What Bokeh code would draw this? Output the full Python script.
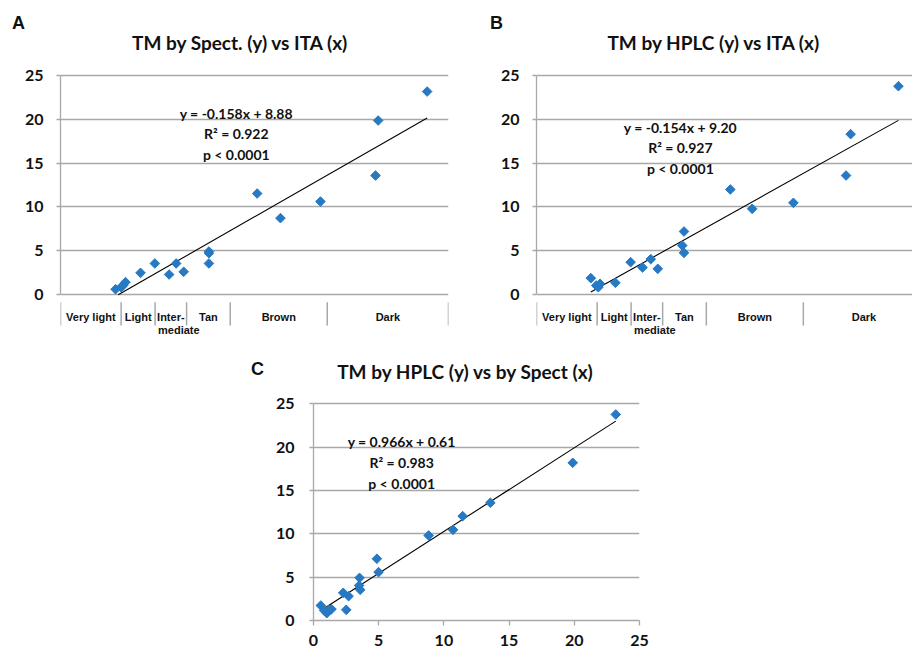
from bokeh.plotting import figure
from bokeh.layouts import column, row
from bokeh.models import Div, FixedTicker, Label, Range1d
from bokeh.embed import file_html
from bokeh.resources import INLINE

# ---------------- data ----------------
# Panel A: TM by Spectrophotometry (y) vs ITA (x)
ita_a = [57.3, 55.0, 54.2, 53.2, 47.0, 41.1, 35.2, 32.3, 29.2, 18.8, 18.8, 18.8,
         -1.1, -10.7, -27.2, -49.9, -51.0, -71.2]
tm_spect_a = [0.64, 0.87, 1.06, 1.44, 2.50, 3.57, 2.31, 3.57, 2.62, 4.93, 4.74, 3.57,
              11.53, 8.73, 10.62, 13.58, 19.84, 23.14]
fit_a = (-0.158, 8.88)
txt_a = ["y = -0.158x + 8.88", "R² = 0.922", "p < 0.0001"]

# Panel B: TM by HPLC (y) vs ITA (x)
ita_b = [57.6, 55.4, 54.5, 53.8, 47.5, 41.2, 36.3, 32.9, 30.0, 19.2, 19.9, 19.2,
         0.1, -8.9, -25.9, -47.6, -49.5, -69.2]
tm_hplc_b = [1.90, 1.06, 0.87, 1.25, 1.37, 3.72, 3.11, 4.06, 2.96, 7.21, 5.61, 4.78,
             11.99, 9.79, 10.47, 13.58, 18.29, 23.75]
fit_b = (-0.154, 9.20)
txt_b = ["y = -0.154x + 9.20", "R² = 0.927", "p < 0.0001"]

# Panel C: TM by HPLC (y) vs by Spect (x)
spect_c = [0.56, 0.82, 1.02, 1.20, 1.38, 2.28, 2.51, 2.69, 3.53, 3.50, 3.58, 4.86, 4.99,
           8.83, 10.70, 11.44, 13.56, 19.88, 23.18]
hplc_c = [1.73, 1.15, 0.85, 1.23, 1.31, 3.19, 1.23, 2.81, 4.92, 4.04, 3.54, 7.12, 5.58,
          9.81, 10.46, 12.04, 13.58, 18.19, 23.77]
fit_c = (0.966, 0.61)
txt_c = ["y = 0.966x + 0.61", "R² = 0.983", "p < 0.0001"]

# ITA skin categories
cat_names = ["Very light", "Light", "Inter-", "Tan", "Brown", "Dark"]
cat_bounds = [80, 55, 41, 28, 10, -30, -80]

y_ticks = [0, 5, 10, 15, 20, 25]
c_x_ticks = [0, 5, 10, 15, 20, 25]

# ---------------- style ----------------
BLUE = "#2679c2"
GRID = "#a8a8a8"
NUM_FONT = "Lato"
LAB_FONT = "Liberation Sans"


def style_axis(ax, standoff, tick_out=4):
    ax.ticker = FixedTicker(ticks=y_ticks)
    ax.bounds = (0, 25)
    ax.axis_line_color = GRID
    ax.axis_line_width = 1.3
    ax.major_tick_line_color = GRID
    ax.major_tick_line_width = 1.3
    ax.major_tick_out = tick_out
    ax.major_tick_in = 0
    ax.minor_tick_out = 0
    ax.minor_tick_in = 0
    ax.major_label_text_font = NUM_FONT
    ax.major_label_text_font_style = "bold"
    ax.major_label_text_font_size = "16px"
    ax.major_label_text_color = "#111111"
    ax.major_label_standoff = standoff


def base_fig(width, height, xr, yr, left, right, bottom, x_axis, standoff):
    p = figure(width=width, height=height, x_range=xr, y_range=yr,
               x_axis_type=("linear" if x_axis else None), title=None,
               toolbar_location=None, output_backend="svg",
               min_border_left=left, min_border_right=right,
               min_border_top=0, min_border_bottom=bottom)
    p.outline_line_color = None
    p.background_fill_color = "white"
    p.border_fill_color = "white"
    style_axis(p.yaxis[0], standoff)
    p.ygrid.ticker = FixedTicker(ticks=y_ticks)
    p.ygrid.grid_line_color = GRID
    p.ygrid.grid_line_width = 1.3
    p.xgrid.visible = False
    return p


def add_scatter(p, xs, ys, fit, clip_zero=False):
    slope, icpt = fit
    x0, x1 = min(xs), max(xs)
    if clip_zero:
        root = -icpt / slope
        x1 = min(x1, root) if slope < 0 else x1
    p.line([x0, x1], [slope * x0 + icpt, slope * x1 + icpt], line_color="black", line_width=1.1)
    p.scatter(xs, ys, marker="square", size=6.8, angle=0.785398,
              fill_color=BLUE, line_color=BLUE)


def add_text(p, x, ys, lines):
    for yy, t in zip(ys, lines):
        p.add_layout(Label(x=x, y=yy, text=t, text_align="center", text_baseline="middle",
                           text_font=NUM_FONT, text_font_style="bold", text_font_size="14px",
                           text_color="#111111"))


def add_title(p, x, y, t):
    p.add_layout(Label(x=x, y=y, text=t, text_align="center", text_baseline="middle",
                       text_font=NUM_FONT, text_font_style="bold", text_font_size="19px",
                       text_color="#111111"))


def letter_div(letter, width, height, left, top):
    font = {"font-family": "'Liberation Sans', Arial, sans-serif", "font-weight": "bold",
            "font-size": "18px", "line-height": "17px", "color": "#111111"}
    html = ('<span style="display:block;margin:0;padding:%dpx 0 0 %dpx;'
            'font-family:\'Liberation Sans\',Arial,sans-serif;font-weight:bold;'
            'font-size:18px;line-height:17px;color:#111111;">%s</span>' % (top, left, letter))
    styles = {"margin": "0", "padding": "0", "background-color": "white"}
    styles.update(font)
    return Div(text=html, width=width, height=height, styles=styles)


def add_categories(p):
    p.segment(x0=cat_bounds, y0=[-0.85] * len(cat_bounds), x1=cat_bounds,
              y1=[-3.5] * len(cat_bounds), line_color=GRID, line_width=1.5)
    for i, name in enumerate(cat_names):
        lo, hi = cat_bounds[i], cat_bounds[i + 1]
        if name == "Inter-":
            p.add_layout(Label(x=lo, y=-2.55, x_offset=2, text="Inter-", text_align="left",
                               text_baseline="middle", text_font=LAB_FONT,
                               text_font_style="bold", text_font_size="11px",
                               text_color="#111111"))
            p.add_layout(Label(x=lo, y=-3.95, x_offset=3, text="mediate", text_align="left",
                               text_baseline="middle", text_font=LAB_FONT,
                               text_font_style="bold", text_font_size="11px",
                               text_color="#111111"))
        else:
            p.add_layout(Label(x=(lo + hi) / 2, y=-2.55, text=name, text_align="center",
                               text_baseline="middle", text_font=LAB_FONT,
                               text_font_style="bold", text_font_size="11px",
                               text_color="#111111"))


# ---------------- panel A ----------------
pa = base_fig(460, 310, Range1d(80, -80), Range1d(-5.2, 30.09), 60, 12, 0, False, 13)
add_scatter(pa, ita_a, tm_spect_a, fit_a, clip_zero=True)
add_categories(pa)
add_text(pa, 7.5, [20.6, 18.33, 15.97], txt_a)
add_title(pa, 5.8, 28.72, "TM by Spect. (y) vs ITA (x)")

# ---------------- panel B ----------------
pb = base_fig(452, 310, Range1d(80, -75), Range1d(-5.2, 30.09), 76, 0, 0, False, 13)
add_scatter(pb, ita_b, tm_hplc_b, fit_b)
add_categories(pb)
add_text(pb, 20.7, [19.08, 16.8, 14.41], txt_b)
add_title(pb, 6.8, 28.72, "TM by HPLC (y) vs ITA (x)")

# ---------------- panel C ----------------
pc = base_fig(412, 312, Range1d(0, 25), Range1d(0, 32.3), 45, 41, 32, True, 15)
xa = pc.xaxis[0]
style_axis(xa, 9, tick_out=5)
xa.ticker = FixedTicker(ticks=c_x_ticks)
add_scatter(pc, spect_c, hplc_c, fit_c)
add_text(pc, 6.76, [20.65, 18.26, 15.84], txt_c)
add_title(pc, 11.67, 28.77, "TM by HPLC (y) vs by Spect (x)")

div_a = letter_div("A", 460, 30, 12, 15)
div_b = letter_div("B", 452, 30, 30, 15)
div_c = letter_div("C", 268, 312, 251, 21)

layout = column(row(div_a, div_b), row(pa, pb), row(div_c, pc))

open("out.html", "w").write(file_html(layout, INLINE))
